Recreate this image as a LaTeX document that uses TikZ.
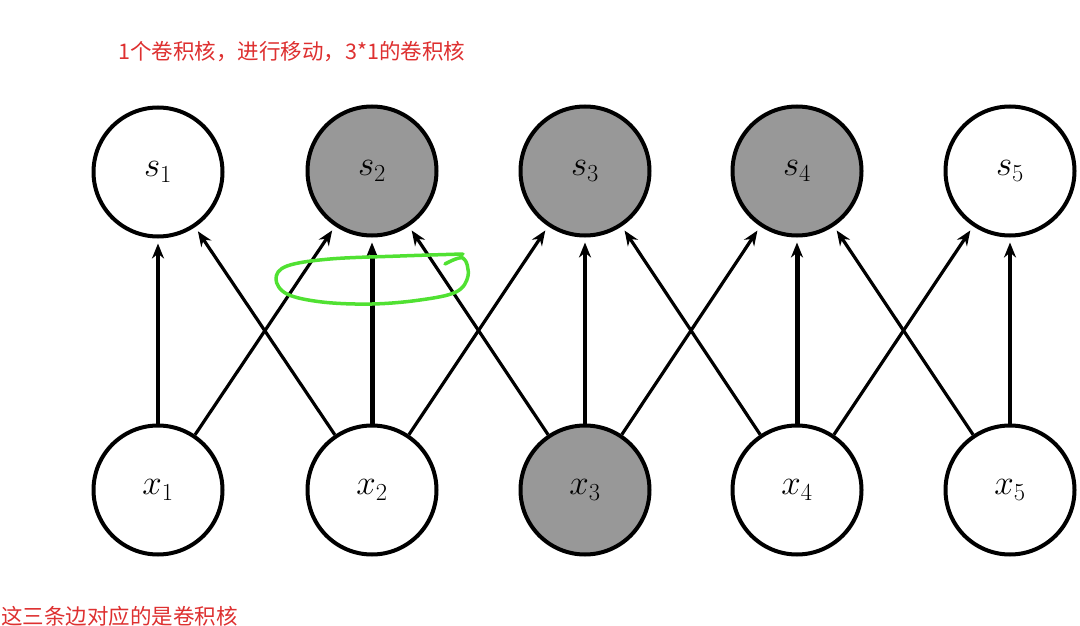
\RequirePackage{fix-cm}
\documentclass[tikz,border=0pt]{standalone}
\usepackage{fontspec}
\newfontfamily\cjk{Noto Sans CJK SC}
\usetikzlibrary{arrows.meta}
\definecolor{notered}{RGB}{222,48,48}
\definecolor{markgreen}{RGB}{80,225,50}
\definecolor{shade}{RGB}{152,152,152}
\tikzset{
  unit/.style={circle, draw=black, line width=4pt, minimum size=129pt, inner sep=0pt, fill=white, font=\fontsize{35}{40}\selectfont},
  hot/.style={unit, fill=shade},
  edge/.style={line width=3.2pt, -{Stealth[length=15pt,width=12pt]}, shorten >=5pt},
  bold edge/.style={edge, line width=5pt},
  note/.style={text=notered, font=\cjk\fontsize{21.5}{24}\selectfont, inner sep=0pt}
}
\begin{document}
\begin{tikzpicture}[x=1pt,y=-1pt]
\useasboundingbox (0,0) rectangle (1080,626);
\fill[white] (0,0) rectangle (1080,626);
% top row
\node[unit] (s1) at (158,172) {$s_1$};
\node[hot]  (s2) at (372,171) {$s_2$};
\node[hot]  (s3) at (585,171) {$s_3$};
\node[hot]  (s4) at (797,171) {$s_4$};
\node[unit] (s5) at (1010,171) {$s_5$};
% bottom row
\node[unit] (x1) at (158,490) {$x_1$};
\node[unit] (x2) at (372,490) {$x_2$};
\node[hot]  (x3) at (585,490) {$x_3$};
\node[unit] (x4) at (797,490) {$x_4$};
\node[unit] (x5) at (1010,490) {$x_5$};
% edges
\draw[edge] (x1) -- (s1);
\draw[edge] (x1) -- (s2);
\draw[edge] (x2) -- (s1);
\draw[bold edge] (x2) -- (s2);
\draw[edge] (x2) -- (s3);
\draw[edge] (x3) -- (s2);
\draw[edge] (x3) -- (s3);
\draw[edge] (x3) -- (s4);
\draw[edge] (x4) -- (s3);
\draw[bold edge] (x4) -- (s4);
\draw[edge] (x4) -- (s5);
\draw[edge] (x5) -- (s4);
\draw[edge] (x5) -- (s5);
% green hand-drawn loop
\draw[markgreen, line width=3.5pt, line cap=round, line join=round]
  plot[smooth, tension=0.6] coordinates {(445,264) (463,258) (468,276) (456,292) (420,300) (372,304) (322,302) (287,294) (276,279) (287,266) (330,259) (400,256) (463,254)};
% notes
\node[note, anchor=west] (t1) at (118,52) {1个卷积核，进行移动，3*1的卷积核};
\node[note, anchor=west] (t2) at (1,616) {这三条边对应的是卷积核};
\end{tikzpicture}
\end{document}
